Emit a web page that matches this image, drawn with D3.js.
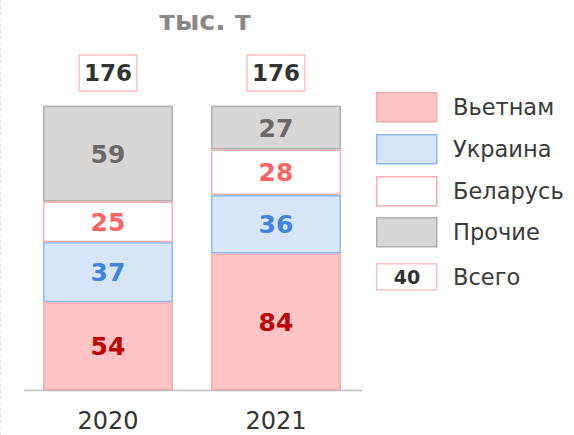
<!DOCTYPE html>
<html>
<head>
<meta charset="utf-8">
<script src="https://cdn.jsdelivr.net/npm/d3@7"></script>
<style>
  html, body { margin: 0; padding: 0; background: #fff; }
  svg { display: block; font-family: "DejaVu Sans", "Noto Sans", sans-serif; }
</style>
</head>
<body>
<svg id="chart" width="574" height="435"></svg>
<script>
// Imports by origin, thousand tonnes
const years = ["2020", "2021"];
const seriesNames = ["Вьетнам", "Украина", "Беларусь", "Прочие"];
const vietnam = [54, 84];
const ukraine = [37, 36];
const belarus = [25, 28];
const other = [59, 27];
const totals = [176, 176];
const unitLabel = "тыс. т";
const totalLegendLabel = "Всего";
const totalLegendSample = "40";

const styles = {
  "Вьетнам":  { fill: "#ffc4c4", stroke: "#ffaaaa", text: "#c00000" },
  "Украина":  { fill: "#d6e6f8", stroke: "#8cb9ef", text: "#3d85e0" },
  "Беларусь": { fill: "#ffffff", stroke: "#ffacac", text: "#ff6464" },
  "Прочие":   { fill: "#d9d7d6", stroke: "#b1aeae", text: "#6c6868" }
};

const rows = years.map((y, i) => ({
  year: y,
  "Вьетнам": vietnam[i],
  "Украина": ukraine[i],
  "Беларусь": belarus[i],
  "Прочие": other[i]
}));

const svg = d3.select("#chart");

// faint dashed frame edge on the left
svg.append("line")
  .attr("x1", 0.5).attr("x2", 0.5).attr("y1", 0).attr("y2", 435)
  .attr("stroke", "#e6e6e6").attr("stroke-dasharray", "3,3");

const x = d3.scaleBand().domain(years).range([23, 361]).paddingInner(0.226).paddingOuter(0.119);
const y = d3.scaleLinear().domain([0, 176]).range([390, 104]);

const stack = d3.stack().keys(seriesNames)(rows);

const layers = svg.append("g").selectAll("g")
  .data(stack).join("g")
  .attr("fill", d => styles[d.key].fill)
  .attr("stroke", d => styles[d.key].stroke)
  .attr("stroke-width", 1.5);

layers.selectAll("rect")
  .data(d => d.map(p => ({ p, key: d.key })))
  .join("rect")
  .attr("x", d => x(d.p.data.year) + 0.75)
  .attr("width", x.bandwidth() - 1.5)
  .attr("y", d => y(d.p[1]) + 0.75)
  .attr("height", d => y(d.p[0]) - y(d.p[1]) - 1.5);

// segment value labels
svg.append("g").selectAll("g")
  .data(stack).join("g")
  .selectAll("text")
  .data(d => d.map(p => ({ p, key: d.key })))
  .join("text")
  .attr("x", d => x(d.p.data.year) + x.bandwidth() / 2)
  .attr("y", d => (y(d.p[0]) + y(d.p[1])) / 2)
  .attr("dy", "0.36em")
  .attr("text-anchor", "middle")
  .attr("font-weight", "bold")
  .attr("font-size", 25)
  .attr("fill", d => styles[d.key].text)
  .text(d => d.p.data[d.key]);

// baseline
svg.append("line")
  .attr("x1", 24).attr("x2", 362).attr("y1", 390.5).attr("y2", 390.5)
  .attr("stroke", "#bdbdbd").attr("stroke-width", 1.5);

// year axis labels
const xAxis = d3.axisBottom(x).tickSize(0).tickPadding(0);
const axisG = svg.append("g").attr("transform", "translate(0,429)").call(xAxis);
axisG.select(".domain").remove();
axisG.selectAll("text")
  .attr("font-size", 24)
  .attr("font-family", "DejaVu Sans, sans-serif")
  .attr("fill", "#333")
  .attr("dy", 0);

// total boxes above bars
const totalG = svg.append("g").selectAll("g")
  .data(years).join("g")
  .attr("transform", d => `translate(${x(d) + x.bandwidth() / 2},73)`);
totalG.append("rect")
  .attr("x", -29).attr("y", -18).attr("width", 58).attr("height", 36)
  .attr("fill", "#fff").attr("stroke", "#ffc2c2").attr("stroke-width", 1.5);
totalG.append("text")
  .attr("text-anchor", "middle").attr("dy", "0.36em")
  .attr("font-weight", "bold").attr("font-size", 23).attr("fill", "#333")
  .text((d, i) => totals[i]);

// unit caption
svg.append("text")
  .attr("x", 205).attr("y", 30)
  .attr("text-anchor", "middle")
  .attr("font-weight", "bold").attr("font-size", 27).attr("fill", "#8c8787")
  .text(unitLabel);

// legend
const legendY = [92, 134, 176, 217];
const legend = svg.append("g");
seriesNames.forEach((name, i) => {
  legend.append("rect")
    .attr("x", 376.75).attr("y", legendY[i] + 0.75)
    .attr("width", 60).attr("height", 29)
    .attr("fill", styles[name].fill).attr("stroke", styles[name].stroke).attr("stroke-width", 1.5);
  legend.append("text")
    .attr("x", 453).attr("y", legendY[i] + 15).attr("dy", "0.36em")
    .attr("font-size", 22.5).attr("fill", "#3a3a3a")
    .text(name);
});
legend.append("rect")
  .attr("x", 376.75).attr("y", 263.75).attr("width", 60).attr("height", 26)
  .attr("fill", "#fff").attr("stroke", "#ffc2c2").attr("stroke-width", 1.5);
legend.append("text")
  .attr("x", 407).attr("y", 277).attr("dy", "0.36em").attr("text-anchor", "middle")
  .attr("font-weight", "bold").attr("font-size", 19).attr("fill", "#333")
  .text(totalLegendSample);
legend.append("text")
  .attr("x", 453).attr("y", 277).attr("dy", "0.36em")
  .attr("font-size", 22.5).attr("fill", "#3a3a3a")
  .text(totalLegendLabel);
</script>
</body>
</html>
